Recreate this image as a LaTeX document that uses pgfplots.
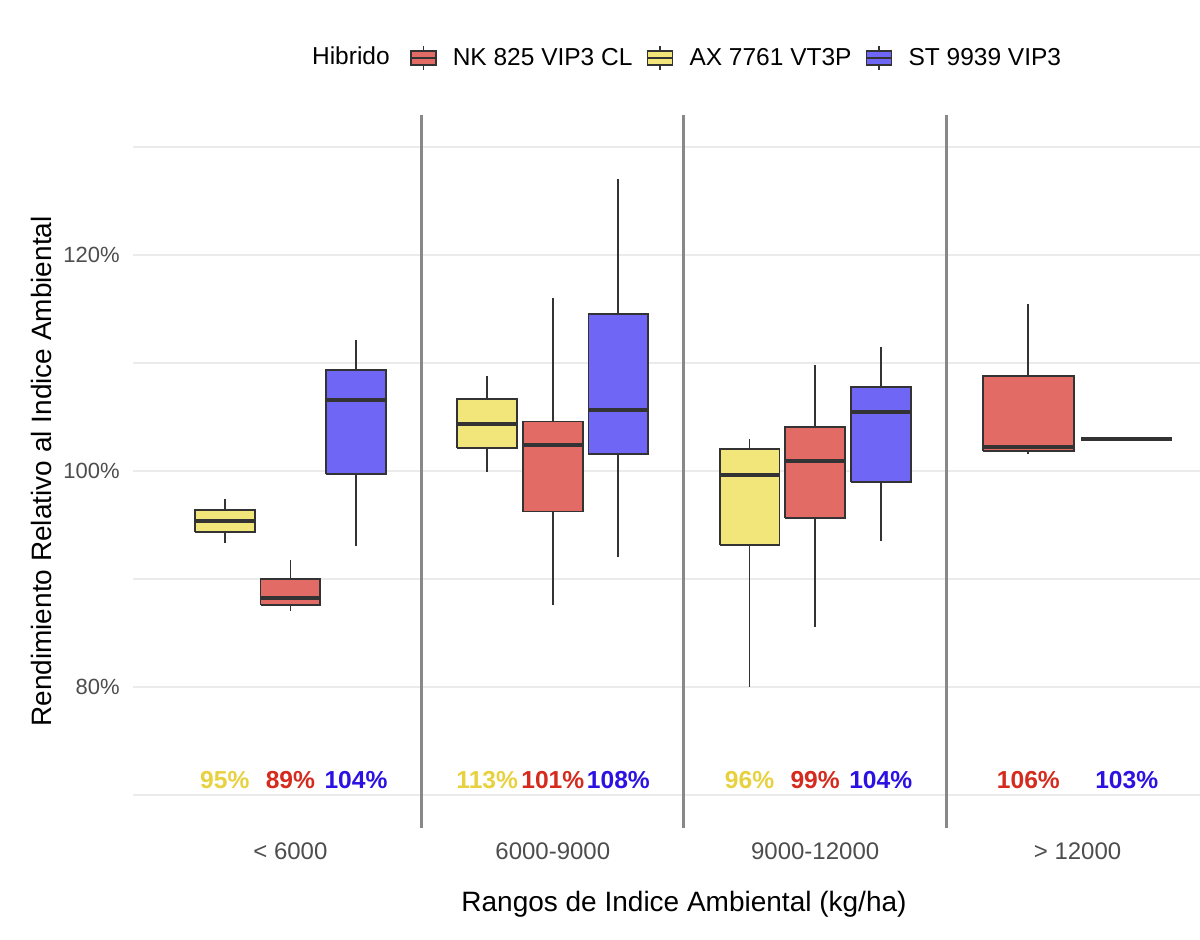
\documentclass[border=0pt]{standalone}
\usepackage{pgfplots}
\pgfplotsset{compat=1.18}
\usepackage{fontspec}
\setmainfont{Liberation Sans}
\definecolor{gridc}{HTML}{EBEBEB}
\definecolor{tickc}{HTML}{4D4D4D}
\definecolor{sepc}{HTML}{888888}
\definecolor{boxline}{HTML}{333333}
\definecolor{rfill}{HTML}{E26B65}
\definecolor{yfill}{HTML}{F2E57A}
\definecolor{bfill}{HTML}{6F66F5}
\definecolor{rtxt}{HTML}{D52B1E}
\definecolor{ytxt}{HTML}{E8D13F}
\definecolor{btxt}{HTML}{2B12E2}
\newcommand\fTick{\fontsize{11}{13}\selectfont}
\newcommand\fXTick{\fontsize{12}{14}\selectfont}
\newcommand\fTitle{\fontsize{14}{16}\selectfont}
\newcommand\fLeg{\fontsize{12.25}{14}\selectfont}
\newcommand\fLab{\fontsize{12.3}{14}\selectfont\bfseries}
\pgfplotsset{
  wh/.style={forget plot, draw=boxline, line width=0.9pt},
  bxs/.style={forget plot, draw=boxline, line width=0.9pt, fill=#1},
  md/.style={forget plot, draw=boxline, line width=2pt},
  legkey/.style={legend image code/.code={
    \draw[line width=0.8pt, draw=boxline] (6.25pt,-6pt) -- (6.25pt,6pt);
    \filldraw[fill=#1, draw=boxline, line width=0.8pt] (0pt,-3.5pt) rectangle (12.5pt,3.5pt);
    \draw[line width=1.1pt, draw=boxline] (0pt,0pt) -- (12.5pt,0pt);}}
}
\begin{document}
\begin{tikzpicture}
\begin{axis}[
  name=ax, at={(0,0)}, anchor=south west,
  scale only axis, width=533.5pt, height=356.5pt,
  xmin=-0.6, xmax=3.4667, ymin=66.94, ymax=132.96,
  axis line style={draw=none}, tick style={draw=none},
  xtick={0,1,2,3}, xticklabels={< 6000,6000-9000,9000-12000,> 12000},
  ytick={80,100,120}, yticklabels={80\%,100\%,120\%},
  minor ytick={70,90,110,130},
  ymajorgrids, yminorgrids,
  major grid style={color=gridc, line width=1pt},
  minor grid style={color=gridc, line width=0.6pt},
  xticklabel style={font=\fXTick, text=tickc, anchor=base, inner sep=0pt, yshift=-15.75pt},
  yticklabel style={font=\fTick, text=tickc, anchor=east, inner sep=0pt, xshift=-6.5pt},
  legend columns=-1,
  legend style={draw=none, fill=none, at={(0.2590,1.0982)}, anchor=north west,
    font=\fLeg, inner sep=0pt, nodes={inner sep=0pt},
    /tikz/every odd column/.append style={column sep=7.9pt},
    /tikz/every even column/.append style={column sep=7.0pt}},
]
% separators
\addplot[forget plot, sepc, line width=1.5pt] coordinates {(0.5,66.94) (0.5,132.96)};
\addplot[forget plot, sepc, line width=1.5pt] coordinates {(1.5,66.94) (1.5,132.96)};
\addplot[forget plot, sepc, line width=1.5pt] coordinates {(2.5,66.94) (2.5,132.96)};
% ---- group < 6000
% AX (yellow) c=-0.25
\addplot[wh] coordinates {(-0.25,93.33) (-0.25,97.41)};
\addplot[bxs=yfill] coordinates {(-0.364,94.32) (-0.136,94.32) (-0.136,96.39) (-0.364,96.39) (-0.364,94.32)};
\addplot[md] coordinates {(-0.364,95.37) (-0.136,95.37)};
% NK (red) c=0
\addplot[wh] coordinates {(0,87.04) (0,91.73)};
\addplot[bxs=rfill] coordinates {(-0.114,87.62) (0.114,87.62) (0.114,90.0) (-0.114,90.0) (-0.114,87.62)};
\addplot[md] coordinates {(-0.114,88.24) (0.114,88.24)};
% ST (blue) c=0.25
\addplot[wh] coordinates {(0.25,93.03) (0.25,112.13)};
\addplot[bxs=bfill] coordinates {(0.136,99.75) (0.364,99.75) (0.364,109.35) (0.136,109.35) (0.136,99.75)};
\addplot[md] coordinates {(0.136,106.57) (0.364,106.57)};
% ---- group 6000-9000
\addplot[wh] coordinates {(0.75,99.88) (0.75,108.83)};
\addplot[bxs=yfill] coordinates {(0.636,102.1) (0.864,102.1) (0.864,106.64) (0.636,106.64) (0.636,102.1)};
\addplot[md] coordinates {(0.636,104.35) (0.864,104.35)};
\addplot[wh] coordinates {(1,87.59) (1,115.99)};
\addplot[bxs=rfill] coordinates {(0.886,96.24) (1.114,96.24) (1.114,104.57) (0.886,104.57) (0.886,96.24)};
\addplot[md] coordinates {(0.886,102.38) (1.114,102.38)};
\addplot[wh] coordinates {(1.25,92.0) (1.25,127.0)};
\addplot[bxs=bfill] coordinates {(1.136,101.57) (1.364,101.57) (1.364,114.51) (1.136,114.51) (1.136,101.57)};
\addplot[md] coordinates {(1.136,105.62) (1.364,105.62)};
% ---- group 9000-12000
\addplot[wh] coordinates {(1.75,80.03) (1.75,102.96)};
\addplot[bxs=yfill] coordinates {(1.636,93.15) (1.864,93.15) (1.864,102.04) (1.636,102.04) (1.636,93.15)};
\addplot[md] coordinates {(1.636,99.63) (1.864,99.63)};
\addplot[wh] coordinates {(2,85.59) (2,109.78)};
\addplot[bxs=rfill] coordinates {(1.886,95.62) (2.114,95.62) (2.114,104.04) (1.886,104.04) (1.886,95.62)};
\addplot[md] coordinates {(1.886,100.93) (2.114,100.93)};
\addplot[wh] coordinates {(2.25,93.55) (2.25,111.51)};
\addplot[bxs=bfill] coordinates {(2.136,98.98) (2.364,98.98) (2.364,107.78) (2.136,107.78) (2.136,98.98)};
\addplot[md] coordinates {(2.136,105.46) (2.364,105.46)};
% ---- group > 12000
\addplot[wh] coordinates {(2.8125,101.57) (2.8125,115.46)};
\addplot[bxs=rfill] coordinates {(2.64,101.85) (2.985,101.85) (2.985,108.82) (2.64,108.82) (2.64,101.85)};
\addplot[md] coordinates {(2.64,102.25) (2.985,102.25)};
\addplot[md] coordinates {(3.015,103.0) (3.36,103.0)};
% legend
\addlegendimage{legkey=rfill}\addlegendentry{NK 825 VIP3 CL}
\addlegendimage{legkey=yfill}\addlegendentry{AX 7761 VT3P}
\addlegendimage{legkey=bfill}\addlegendentry{ST 9939 VIP3}
% percentage labels
\node[anchor=base, inner sep=0pt, text=ytxt, font=\fLab] at (axis cs:-0.25,70.62) {95\%};
\node[anchor=base, inner sep=0pt, text=rtxt, font=\fLab] at (axis cs:0,70.62) {89\%};
\node[anchor=base, inner sep=0pt, text=btxt, font=\fLab] at (axis cs:0.25,70.62) {104\%};
\node[anchor=base, inner sep=0pt, text=ytxt, font=\fLab] at (axis cs:0.75,70.62) {113\%};
\node[anchor=base, inner sep=0pt, text=rtxt, font=\fLab] at (axis cs:1,70.62) {101\%};
\node[anchor=base, inner sep=0pt, text=btxt, font=\fLab] at (axis cs:1.25,70.62) {108\%};
\node[anchor=base, inner sep=0pt, text=ytxt, font=\fLab] at (axis cs:1.75,70.62) {96\%};
\node[anchor=base, inner sep=0pt, text=rtxt, font=\fLab] at (axis cs:2,70.62) {99\%};
\node[anchor=base, inner sep=0pt, text=btxt, font=\fLab] at (axis cs:2.25,70.62) {104\%};
\node[anchor=base, inner sep=0pt, text=rtxt, font=\fLab] at (axis cs:2.8125,70.62) {106\%};
\node[anchor=base, inner sep=0pt, text=btxt, font=\fLab] at (axis cs:3.1875,70.62) {103\%};
\coordinate (xl) at (axis cs:1.5,66.94);
\end{axis}
\node[anchor=base, inner sep=0pt, font=\fTitle] at ([yshift=-42pt]xl) {Rangos de Indice Ambiental (kg/ha)};
\node[xshift=-40.5pt, rotate=90, anchor=base, inner sep=0pt, font=\fTitle] at (ax.west) {Rendimiento Relativo al Indice Ambiental};
\node[anchor=base west, inner sep=0pt, font=\fLeg] at ([xshift=89.35pt, yshift=381.5pt]ax.south west) {Hibrido};
\pgfresetboundingbox
\path[use as bounding box] (-66.5pt,-56pt) rectangle (533.5pt,414pt);
\end{tikzpicture}
\end{document}
